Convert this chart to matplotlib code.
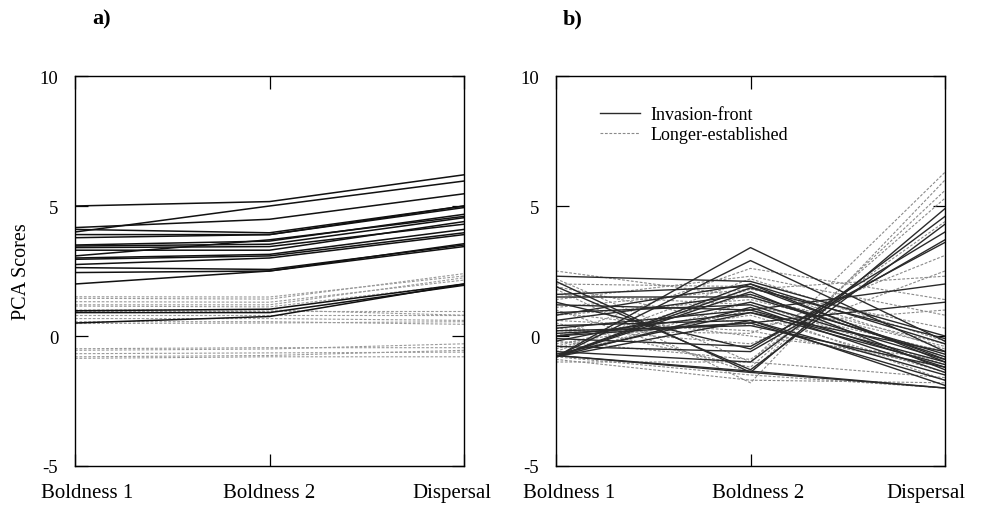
import matplotlib
matplotlib.use("Agg")
import matplotlib.pyplot as plt
from matplotlib.lines import Line2D
from matplotlib.transforms import ScaledTranslation
import numpy as np

categories = ["Boldness 1", "Boldness 2", "Dispersal"]
y_ticks = [-5, 0, 5, 10]
y_tick_labels = ["-5", "0", "5", "10"]

# Panel a) - invasion-front (solid)
a_front = [
    (5.0, 5.17, 6.2), (4.0, 5.0, 5.96), (4.17, 4.49, 5.47), (4.1, 3.97, 5.0),
    (3.78, 3.9, 4.94), (3.5, 3.65, 4.68), (3.46, 3.53, 4.55), (3.4, 3.44, 4.3),
    (3.08, 3.7, 4.6), (3.0, 3.14, 4.1), (2.95, 3.08, 3.97), (2.75, 3.0, 3.9),
    (2.63, 2.56, 3.5), (2.44, 2.5, 3.44), (2.0, 2.5, 3.55), (3.9, 3.9, 5.0),
    (3.3, 3.3, 4.4), (0.97, 1.03, 2.0), (0.9, 0.9, 1.95), (0.5, 0.75, 2.0),
]
# Panel a) - longer-established (dashed)
a_long = [
    (1.51, 1.5, 2.31), (1.45, 1.42, 2.4), (1.32, 1.3, 2.15), (1.2, 1.2, 2.24),
    (1.15, 1.12, 1.99), (0.97, 0.97, 0.97), (1.0, 1.0, 0.8), (0.79, 0.79, 0.79),
    (0.67, 0.67, 0.6), (0.48, 0.5, 0.55), (0.55, 0.55, 0.45), (-0.49, -0.45, -0.45),
    (-0.55, -0.5, -0.3), (-0.68, -0.65, -0.62), (-0.86, -0.8, -0.8), (-0.8, -0.75, -0.55),
]
# Panel b) - invasion-front (solid)
b_front = [
    (-0.8, 3.4, -0.2), (-0.8, 2.9, -0.6), (2.3, 2.1, 0.0), (2.1, -1.4, 4.9),
    (1.9, -1.3, 4.3), (1.5, 1.5, -0.7), (1.6, 1.9, -0.9), (1.2, 1.0, -1.0),
    (0.9, 1.2, -1.2), (0.6, 1.6, -0.8), (0.4, 0.6, -1.5), (0.1, 0.5, -1.7),
    (0.0, 0.5, 1.3), (0.0, 0.9, -1.1), (-0.1, -0.4, 3.6), (-0.4, -0.6, 3.7),
    (-0.8, 2.0, -0.3), (-0.8, 1.85, -0.1), (-0.8, 1.7, -1.3), (-0.8, 1.1, -1.4),
    (-0.7, 0.9, -0.6), (-0.8, 0.6, -1.9), (-0.75, -1.4, -2.0), (-0.75, -1.35, -2.0),
    (0.3, 1.0, 2.0), (1.3, -0.5, 4.0), (-0.2, 1.3, -0.9), (0.8, 2.0, -1.0),
    (-0.6, -1.0, 4.6), (0.2, 0.4, -1.2),
]
# Panel b) - longer-established (dashed)
b_long = [
    (2.5, 1.5, -0.3), (2.2, -1.0, 6.3), (1.8, -1.8, 6.0), (1.0, -1.4, 5.6),
    (0.5, -1.2, 5.3), (-0.2, -0.9, 4.4), (0.2, 0.1, 3.1), (-0.5, 1.8, 2.3),
    (0.0, 2.6, 1.4), (1.4, 2.3, 0.8), (1.1, 1.8, 0.3), (0.8, 1.4, -0.4),
    (-0.4, 1.6, -0.8), (-0.8, 1.3, -1.1), (-1.0, -1.0, -1.6), (-0.9, -1.7, -1.8),
    (0.6, 0.2, -1.2), (1.6, 1.2, -0.6), (-0.6, 2.2, -0.2), (0.3, -0.3, 2.5),
    (-0.3, 0.8, -1.4), (-0.8, -1.5, -2.0), (1.9, 0.4, 1.0), (0.9, 0.0, -0.9),
    (-0.7, 1.0, -1.7), (2.0, 1.9, -0.5),
]

plt.rcParams["font.family"] = ["Liberation Serif", "DejaVu Serif"]

W, H = 984, 506
fig = plt.figure(figsize=(W / 100, H / 100), dpi=100)
fig.patch.set_facecolor("white")

def px_axes(x0, x1, y0, y1):
    return fig.add_axes([x0 / W, 1 - y1 / H, (x1 - x0) / W, (y1 - y0) / H])

ax_a = px_axes(75, 464, 77, 467)
ax_b = px_axes(556, 945, 77, 467)

x = np.arange(len(categories))

def style(ax, shifts):
    ax.set_xlim(0, 2)
    ax.set_ylim(-5, 10)
    ax.set_xticks(x)
    ax.set_xticklabels(categories, fontsize=15)
    ax.set_yticks(y_ticks)
    ax.set_yticklabels(y_tick_labels, fontsize=13.5)
    ax.tick_params(axis="both", direction="in", length=9, width=0.9,
                   top=True, right=True, labelright=False, labeltop=False)
    ax.tick_params(axis="x", pad=12)
    ax.tick_params(axis="y", pad=12)
    for s in ax.spines.values():
        s.set_linewidth(1.0)
        s.set_color("black")
    for lab, dx in zip(ax.get_xticklabels(), shifts):
        lab.set_transform(lab.get_transform() + ScaledTranslation(dx / 100, 0, fig.dpi_scale_trans))

for row in a_long:
    ax_a.plot(x, row, color="#9a9a9a", lw=0.8, dashes=(2.5, 1.5))
for row in a_front:
    ax_a.plot(x, row, color="#111111", lw=1.1)

for row in b_long:
    ax_b.plot(x, row, color="#8a8a8a", lw=0.8, dashes=(2.5, 1.5))
for row in b_front:
    ax_b.plot(x, row, color="#2a2a2a", lw=1.0)

style(ax_a, [12, 0, -12])
style(ax_b, [13, 8, -19])

ax_a.set_ylabel("PCA Scores", fontsize=14.5, labelpad=6)

fig.text(92 / W, 1 - 19 / H, "a)", fontsize=16, fontweight="bold", va="center", ha="left")
fig.text(563 / W, 1 - 19 / H, "b)", fontsize=16, fontweight="bold", va="center", ha="left")

handles = [Line2D([], [], color="#2a2a2a", lw=1.0),
           Line2D([], [], color="#8a8a8a", lw=0.8, dashes=(2.5, 1.5))]
ax_b.legend(handles, ["Invasion-front", "Longer-established"], loc="upper left",
            bbox_to_anchor=(0.113, 0.922), frameon=False, fontsize=13,
            handlelength=2.2, handletextpad=0.6, labelspacing=0.15,
            borderpad=0, borderaxespad=0)

fig.savefig("out.png", dpi=100, facecolor="white")
